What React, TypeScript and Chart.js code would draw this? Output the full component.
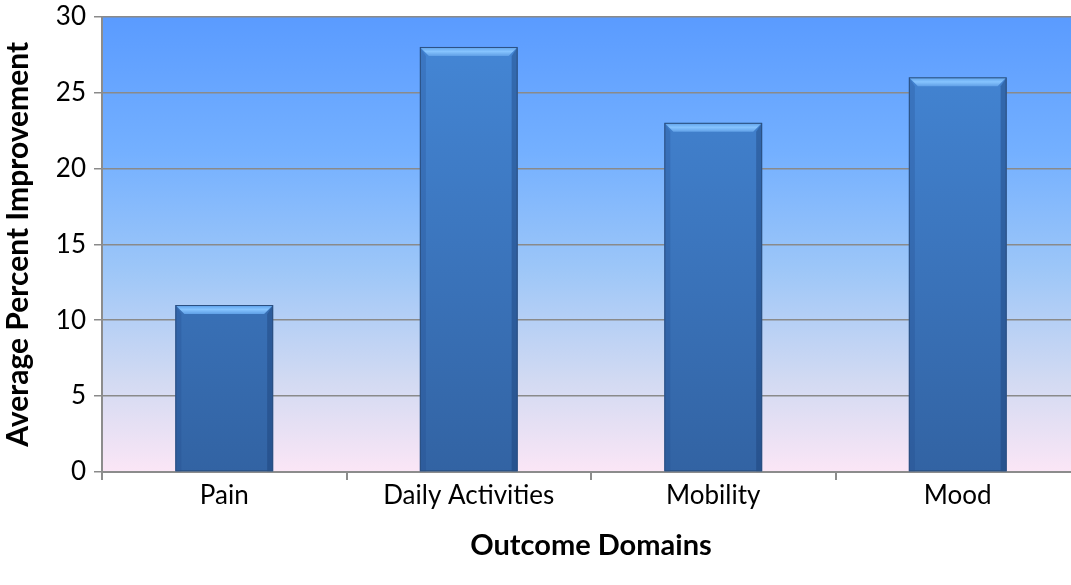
import React, { useEffect, useRef } from "react";
import { Chart, registerables } from "chart.js";

Chart.register(...registerables);

const categories = ["Pain", "Daily Activities", "Mobility", "Mood"];
const improvement = [11, 28, 23, 26];
const yTicks = [0, 5, 10, 15, 20, 25, 30];
const xTitle = "Outcome Domains";
const yTitle = "Average Percent Improvement";

const FONT = "Lato, 'Open Sans', sans-serif";

const bgPlugin = {
  id: "plotBg",
  beforeDraw(chart: any) {
    const { ctx, chartArea } = chart;
    if (!chartArea) return;
    const g = ctx.createLinearGradient(0, chartArea.top, 0, chartArea.bottom);
    g.addColorStop(0, "#5a9bff");
    g.addColorStop(0.3, "#74b0ff");
    g.addColorStop(0.55, "#9cc6f8");
    g.addColorStop(0.8, "#d2daf2");
    g.addColorStop(1, "#fbe6f6");
    ctx.save();
    ctx.fillStyle = g;
    ctx.fillRect(chartArea.left, chartArea.top, chartArea.right - chartArea.left, chartArea.bottom - chartArea.top);
    ctx.restore();
  },
};

const bevelPlugin = {
  id: "bevel",
  afterDatasetsDraw(chart: any) {
    const { ctx } = chart;
    const meta = chart.getDatasetMeta(0);
    ctx.save();
    meta.data.forEach((bar: any) => {
      const { x, y, base, width } = bar.getProps(["x", "y", "base", "width"], true);
      const l = x - width / 2;
      const r = x + width / 2;
      const t = y;
      const b = base;
      const d = 9;
      const gt = ctx.createLinearGradient(0, t, 0, t + d);
      gt.addColorStop(0, "#5b9fe8");
      gt.addColorStop(0.5, "#86c4ff");
      gt.addColorStop(1, "#5f9fe6");
      ctx.fillStyle = gt;
      ctx.beginPath();
      ctx.moveTo(l, t);
      ctx.lineTo(r, t);
      ctx.lineTo(r - d, t + d);
      ctx.lineTo(l + d, t + d);
      ctx.closePath();
      ctx.fill();
      ctx.fillStyle = "rgba(30,70,130,0.22)";
      ctx.beginPath();
      ctx.moveTo(l, t);
      ctx.lineTo(l + d - 3, t + d);
      ctx.lineTo(l + d - 3, b);
      ctx.lineTo(l, b);
      ctx.closePath();
      ctx.fill();
      ctx.fillStyle = "rgba(20,50,100,0.32)";
      ctx.beginPath();
      ctx.moveTo(r, t);
      ctx.lineTo(r - d + 3, t + d);
      ctx.lineTo(r - d + 3, b);
      ctx.lineTo(r, b);
      ctx.closePath();
      ctx.fill();
      ctx.strokeStyle = "#2b4f80";
      ctx.lineWidth = 1;
      ctx.strokeRect(l + 0.5, t + 0.5, width - 1, b - t - 1);
    });
    ctx.restore();
  },
};

export default function App() {
  const ref = useRef<HTMLCanvasElement | null>(null);

  useEffect(() => {
    document.body.style.margin = "0";
    document.body.style.overflow = "hidden";
    const canvas = ref.current!;
    const chart = new Chart(canvas, {
      type: "bar",
      data: {
        labels: categories,
        datasets: [
          {
            data: improvement,
            barPercentage: 0.4,
            categoryPercentage: 1,
            backgroundColor: (c: any) => {
              const area = c.chart.chartArea;
              if (!area) return "#3f7bc8";
              const g = c.chart.ctx.createLinearGradient(0, area.top, 0, area.bottom);
              g.addColorStop(0, "#4588d8");
              g.addColorStop(1, "#3263a3");
              return g;
            },
            borderWidth: 0,
          },
        ],
      },
      plugins: [bgPlugin, bevelPlugin],
      options: {
        responsive: false,
        animation: false,
        devicePixelRatio: 1,
        layout: { padding: { top: 16, right: 0, left: 0, bottom: 0 } },
        plugins: {
          legend: { display: false },
          tooltip: { enabled: false },
        },
        scales: {
          x: {
            offset: true,
            grid: {
              display: true,
              offset: true,
              drawOnChartArea: false,
              drawTicks: true,
              tickLength: 8,
              color: "#8c8c8c",
              lineWidth: 2,
            },
            border: { display: true, color: "#8c8c8c", width: 2 },
            ticks: {
              color: "#000",
              font: { family: FONT, size: 26 },
              padding: 0,
            },
            title: {
              display: true,
              text: xTitle,
              color: "#000",
              font: { family: FONT, size: 29, weight: "bold" },
              padding: { top: 0, bottom: 22 },
            },
            afterFit: (s: any) => {
              s.height = 113;
            },
          },
          y: {
            min: 0,
            max: 30,
            afterBuildTicks: (s: any) => {
              s.ticks = yTicks.map((v) => ({ value: v }));
            },
            grid: {
              color: "#8a8a8a",
              lineWidth: 1.5,
              tickLength: 8,
            },
            border: { display: true, color: "#8c8c8c", width: 2 },
            ticks: {
              color: "#000",
              font: { family: FONT, size: 26 },
              padding: 8,
            },
            title: {
              display: true,
              text: yTitle,
              color: "#000",
              font: { family: FONT, size: 30, weight: "bold" },
              padding: { top: 0, bottom: 0 },
            },
            afterFit: (s: any) => {
              s.width = 102;
            },
          },
        },
      },
    } as any);
    return () => chart.destroy();
  }, []);

  return (
    <div style={{ position: "fixed", left: 0, top: 0, width: 1071, height: 585, overflow: "hidden", background: "#fff" }}>
      <canvas ref={ref} width={1080} height={592} style={{ display: "block", marginTop: -7 }} />
    </div>
  );
}
